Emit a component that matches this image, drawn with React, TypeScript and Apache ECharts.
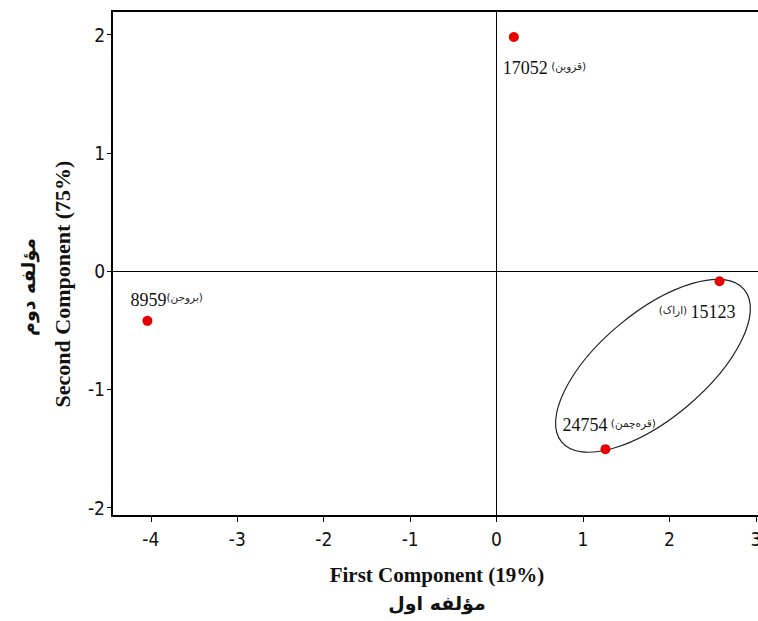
import React, { useEffect, useRef } from "react";
import * as echarts from "echarts";

const sampleIds = ["17052", "8959", "15123", "24754"];
const locations = ["قزوین", "بروجن", "اراک", "قره‌چمن"];
const pc1 = [0.2, -4.04, 2.58, 1.26];
const pc2 = [1.98, -0.42, -0.085, -1.505];
const xTicks = [-4, -3, -2, -1, 0, 1, 2, 3];
const yTicks = [-2, -1, 0, 1, 2];
const ellipseCenter = [1.81, -0.8];

const xTitle = "First Component (19%)";
const xTitleFa = "مؤلفه اول";
const yTitle = "Second Component (75%)";
const yTitleFa = "مؤلفه دوم";

// label layout (pixels relative to symbol box), style only
const labelLayout = [
  { pos: [-6, 36], align: "left", reverse: false, sep: " " },
  { pos: [-12, -16], align: "left", reverse: false, sep: "" },
  { pos: [21, 36], align: "right", reverse: true, sep: " " },
  { pos: [-38, -19], align: "left", reverse: false, sep: " " },
];

export default function App() {
  const ref = useRef<HTMLDivElement>(null);
  useEffect(() => {
    if (!ref.current) return;
    const chart = echarts.init(ref.current, null, { renderer: "svg" });
    const tickFont = "'Liberation Sans Narrow', 'DejaVu Sans Condensed', sans-serif";
    const data = pc1.map((x, i) => {
      const L = labelLayout[i];
      const txt = L.reverse
        ? `{p|(${locations[i]})}${L.sep}{n|${sampleIds[i]}}`
        : `{n|${sampleIds[i]}}${L.sep}{p|(${locations[i]})}`;
      return {
        value: [x, pc2[i]],
        label: {
          show: true,
          position: L.pos,
          align: L.align,
          verticalAlign: "middle",
          formatter: txt,
        },
      };
    });
    chart.setOption({
      animation: false,
      backgroundColor: "#fff",
      grid: {
        left: 112,
        top: 11,
        right: 9,
        bottom: 105,
        show: true,
        borderColor: "#000",
        borderWidth: 2,
        containLabel: false,
      },
      xAxis: {
        type: "value",
        min: -4.45,
        max: 3.06,
        splitLine: { show: false },
        axisLine: { show: true, onZero: false, lineStyle: { color: "#000", width: 2 } },
        axisTick: { show: true, length: 6, customValues: xTicks, lineStyle: { color: "#000", width: 1 } },
        axisLabel: {
          customValues: xTicks,
          margin: 13,
          color: "#111",
          fontSize: 19,
          fontFamily: tickFont,
        },
      },
      yAxis: {
        type: "value",
        min: -2.07,
        max: 2.2,
        splitLine: { show: false },
        axisLine: { show: true, onZero: false, lineStyle: { color: "#000", width: 2 } },
        axisTick: { show: true, length: 5, customValues: yTicks, lineStyle: { color: "#000", width: 1 } },
        axisLabel: {
          customValues: yTicks,
          margin: 7,
          color: "#111",
          fontSize: 19,
          fontFamily: tickFont,
        },
      },
      series: [
        {
          type: "custom",
          silent: true,
          data: [ellipseCenter],
          renderItem: (params: any, api: any) => {
            const p = api.coord([api.value(0), api.value(1)]);
            return {
              type: "ellipse",
              x: p[0],
              y: p[1],
              rotation: 0.696,
              shape: { cx: 0, cy: 0, rx: 119, ry: 53 },
              style: { fill: "none", stroke: "#222", lineWidth: 1.2 },
            };
          },
          z: 1,
        },
        {
          type: "scatter",
          symbol: "circle",
          symbolSize: 10,
          itemStyle: { color: "#e60000", opacity: 1 },
          z: 3,
          label: {
            color: "#111",
            rich: {
              n: { fontFamily: "'Liberation Serif', serif", fontSize: 18, color: "#111" },
              p: { fontFamily: "'DejaVu Sans', sans-serif", fontSize: 10.5, color: "#222", padding: [0, 0, 5, 0] },
            },
          },
          data,
          markLine: {
            silent: true,
            symbol: "none",
            label: { show: false },
            lineStyle: { color: "#000", width: 1, type: "solid" },
            data: [{ xAxis: 0 }, { yAxis: 0 }],
          },
        },
      ],
      graphic: [
        {
          type: "text",
          x: 437,
          y: 575,
          style: {
            text: xTitle,
            font: "bold 21px 'Liberation Serif', serif",
            fill: "#111",
            align: "center",
            verticalAlign: "middle",
            textAlign: "center",
            textVerticalAlign: "middle",
          },
        },
        {
          type: "text",
          x: 437,
          y: 603,
          style: {
            text: xTitleFa,
            font: "bold 19px 'DejaVu Sans', sans-serif",
            fill: "#111",
            align: "center",
            verticalAlign: "middle",
            textAlign: "center",
            textVerticalAlign: "middle",
          },
        },
        {
          type: "text",
          x: 62,
          y: 284,
          rotation: Math.PI / 2,
          style: {
            text: yTitle,
            font: "bold 22px 'Liberation Serif', serif",
            fill: "#111",
            align: "center",
            verticalAlign: "middle",
            textAlign: "center",
            textVerticalAlign: "middle",
          },
        },
        {
          type: "text",
          x: 28,
          y: 287,
          rotation: Math.PI / 2,
          style: {
            text: yTitleFa,
            font: "bold 19px 'DejaVu Sans', sans-serif",
            fill: "#111",
            align: "center",
            verticalAlign: "middle",
            textAlign: "center",
            textVerticalAlign: "middle",
          },
        },
      ],
    });
    return () => chart.dispose();
  }, []);
  return (
    <div style={{ position: "absolute", left: 0, top: 0, width: 758, height: 621, overflow: "hidden" }}>
      <div ref={ref} style={{ width: 770, height: 621 }} />
    </div>
  );
}
